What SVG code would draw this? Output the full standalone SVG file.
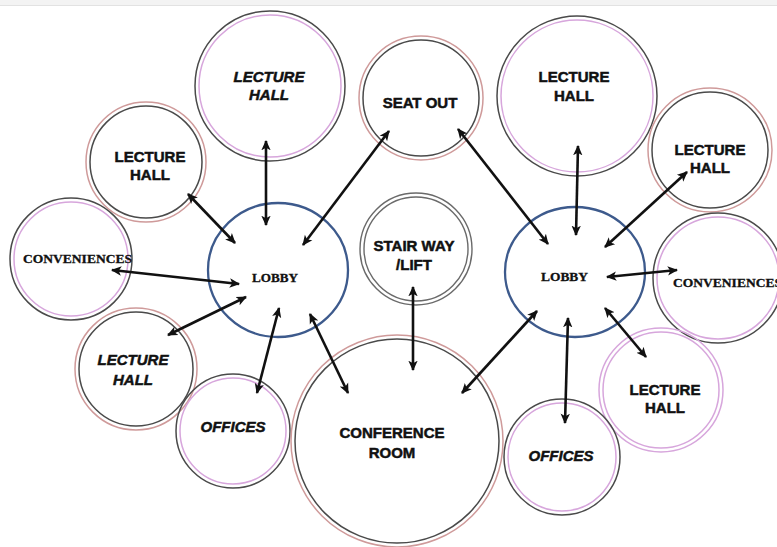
<svg xmlns="http://www.w3.org/2000/svg" width="777" height="547" viewBox="0 0 777 547">
  <defs>
    <marker id="tip" viewBox="0 0 10 10" refX="9" refY="5" markerWidth="4" markerHeight="4" orient="auto-start-reverse" markerUnits="strokeWidth">
      <path d="M0,0.5 L10,5 L0,9.5 L2.5,5 Z" fill="#111"/>
    </marker>
  </defs>
  <style>
    .bg { fill: #ffffff; }
    .band { fill: #f3f3f3; }
    .dark { fill: none; stroke: #4a4a4a; stroke-width: 1.5; }
    .rose { fill: none; stroke: #cf9a9a; stroke-width: 1.5; }
    .violet { fill: none; stroke: #d7a6dc; stroke-width: 1.5; }
    .grey { fill: none; stroke: #6a6a6a; stroke-width: 1.4; }
    .lobby { fill: none; stroke: #3d5a8c; stroke-width: 2.3; }
    .link { stroke: #111; stroke-width: 2.6; fill: none; marker-start: url(#tip); marker-end: url(#tip); }
    .sans { font-family: "Liberation Sans", Arial, sans-serif; font-weight: bold; font-size: 15px; fill: #111; stroke: #111; stroke-width: 0.5; text-anchor: middle; }
    .ital { font-family: "Liberation Sans", Arial, sans-serif; font-weight: bold; font-style: italic; font-size: 15px; fill: #111; stroke: #111; stroke-width: 0.5; text-anchor: middle; }
    .serif { font-family: "Liberation Serif", "Times New Roman", serif; font-weight: bold; font-size: 12px; fill: #111; stroke: #111; stroke-width: 0.3; }
  </style>

  <rect class="bg" x="0" y="0" width="777" height="547"/>
  <rect class="band" x="0" y="0" width="777" height="5"/>
  <line x1="0" y1="5.5" x2="777" y2="5.5" stroke="#e2e2e2" stroke-width="1"/>

  <!-- left wing -->
  <g id="lecture-hall-top-left">
    <circle class="dark" cx="270" cy="86" r="75"/>
    <circle class="violet" cx="270" cy="86" r="71"/>
    <text class="ital" x="269" y="82">LECTURE</text>
    <text class="ital" x="269" y="100">HALL</text>
  </g>
  <g id="lecture-hall-left">
    <circle class="rose" cx="146" cy="162" r="60"/>
    <circle class="dark" cx="146" cy="162" r="56"/>
    <text class="sans" x="150" y="162">LECTURE</text>
    <text class="sans" x="150" y="180">HALL</text>
  </g>
  <g id="conveniences-left">
    <circle class="dark" cx="71" cy="259" r="61"/>
    <circle class="violet" cx="71" cy="259" r="57"/>
    <text class="serif" x="23" y="263" textLength="109" lengthAdjust="spacingAndGlyphs">CONVENIENCES</text>
  </g>
  <g id="lecture-hall-lower-left">
    <circle class="rose" cx="136" cy="369" r="61"/>
    <circle class="dark" cx="136" cy="369" r="57"/>
    <text class="ital" x="133" y="365">LECTURE</text>
    <text class="ital" x="133" y="385">HALL</text>
  </g>
  <g id="offices-left">
    <circle class="dark" cx="233" cy="431" r="57"/>
    <circle class="violet" cx="233" cy="431" r="53"/>
    <text class="ital" x="233" y="432">OFFICES</text>
  </g>
  <g id="lobby-left">
    <ellipse class="lobby" cx="278" cy="270" rx="70" ry="67"/>
    <text class="serif" x="252" y="282" textLength="46" lengthAdjust="spacingAndGlyphs">LOBBY</text>
  </g>

  <!-- centre -->
  <g id="seat-out">
    <circle class="rose" cx="421" cy="98" r="62"/>
    <circle class="dark" cx="421" cy="98" r="58"/>
    <text class="sans" x="420" y="108">SEAT OUT</text>
  </g>
  <g id="stair-way">
    <circle class="grey" cx="416" cy="249" r="56"/>
    <circle class="grey" cx="416" cy="249" r="52"/>
    <text class="sans" x="414" y="251">STAIR WAY</text>
    <text class="sans" x="414" y="270">/LIFT</text>
  </g>
  <g id="conference-room">
    <circle class="rose" cx="397" cy="441" r="106"/>
    <circle class="dark" cx="397" cy="441" r="102"/>
    <text class="sans" x="392" y="438">CONFERENCE</text>
    <text class="sans" x="392" y="458">ROOM</text>
  </g>

  <!-- right wing -->
  <g id="lecture-hall-top-right">
    <circle class="dark" cx="577" cy="96" r="80"/>
    <circle class="violet" cx="577" cy="96" r="76"/>
    <text class="sans" x="574" y="82">LECTURE</text>
    <text class="sans" x="574" y="101">HALL</text>
  </g>
  <g id="lecture-hall-right">
    <circle class="rose" cx="710" cy="150" r="62"/>
    <circle class="dark" cx="710" cy="150" r="58"/>
    <text class="sans" x="710" y="155">LECTURE</text>
    <text class="sans" x="710" y="173">HALL</text>
  </g>
  <g id="conveniences-right">
    <circle class="dark" cx="718" cy="278" r="65"/>
    <circle class="violet" cx="718" cy="278" r="61"/>
    <text class="serif" x="673" y="287" textLength="109" lengthAdjust="spacingAndGlyphs">CONVENIENCES</text>
  </g>
  <g id="lecture-hall-lower-right">
    <circle class="violet" cx="661" cy="390" r="62"/>
    <circle class="violet" cx="661" cy="390" r="58"/>
    <text class="sans" x="665" y="395">LECTURE</text>
    <text class="sans" x="665" y="413">HALL</text>
  </g>
  <g id="offices-right">
    <circle class="dark" cx="562" cy="457" r="58"/>
    <circle class="violet" cx="562" cy="457" r="54"/>
    <text class="ital" x="561" y="461">OFFICES</text>
  </g>
  <g id="lobby-right">
    <ellipse class="lobby" cx="575" cy="272" rx="70" ry="65"/>
    <text class="serif" x="541" y="281" textLength="47" lengthAdjust="spacingAndGlyphs">LOBBY</text>
  </g>

  <!-- two-way links -->
  <g id="connectors">
    <line class="link" x1="266" y1="141" x2="266" y2="225"/>
    <line class="link" x1="188" y1="194" x2="235" y2="243"/>
    <line class="link" x1="389" y1="131" x2="303" y2="245"/>
    <line class="link" x1="112" y1="270" x2="239" y2="284"/>
    <line class="link" x1="168" y1="335" x2="246" y2="297"/>
    <line class="link" x1="279" y1="308" x2="257" y2="393"/>
    <line class="link" x1="310" y1="314" x2="348" y2="393"/>
    <line class="link" x1="413" y1="287" x2="413" y2="370"/>
    <line class="link" x1="458" y1="129" x2="548" y2="244"/>
    <line class="link" x1="578" y1="146" x2="576" y2="235"/>
    <line class="link" x1="605" y1="247" x2="687" y2="172"/>
    <line class="link" x1="607" y1="277" x2="677" y2="270"/>
    <line class="link" x1="605" y1="308" x2="646" y2="357"/>
    <line class="link" x1="568" y1="318" x2="565" y2="423"/>
    <line class="link" x1="537" y1="311" x2="462" y2="393"/>
  </g>
</svg>
